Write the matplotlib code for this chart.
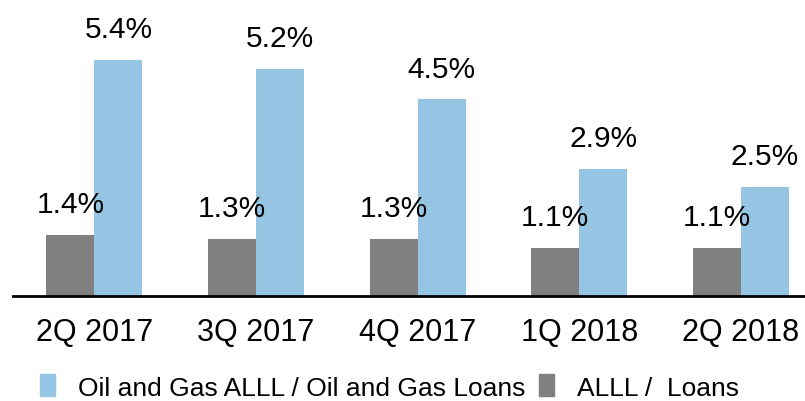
import matplotlib
matplotlib.use("Agg")
import matplotlib.pyplot as plt
from matplotlib.patches import Patch
import numpy as np

plt.rcParams['font.family'] = ['Liberation Sans', 'DejaVu Sans']

# data
quarters = ["2Q 2017", "3Q 2017", "4Q 2017", "1Q 2018", "2Q 2018"]
oil_gas = [5.4, 5.2, 4.5, 2.9, 2.5]   # Oil and Gas ALLL / Oil and Gas Loans
alll = [1.4, 1.3, 1.3, 1.1, 1.1]      # ALLL / Loans

blue = "#95c5e2"
gray = "#808080"

fig = plt.figure(figsize=(8.05, 4.02), dpi=100)
ax = fig.add_axes([13 / 805, 105 / 402, 792 / 805, 297 / 402])

x = np.arange(len(quarters))
w = 0.297
b1 = ax.bar(x - w / 2, alll, w, color=gray)
b2 = ax.bar(x + w / 2, oil_gas, w, color=blue)

for bars, vals in ((b1, alll), (b2, oil_gas)):
    for r, v in zip(bars, vals):
        ax.annotate(f"{v:.1f}%", (r.get_x() + r.get_width() / 2, v),
                    xytext=(0, 16.5), textcoords="offset points",
                    ha="center", va="baseline", fontsize=21.5)

ax.set_xlim(-0.504, 4.397)
ax.set_ylim(0, 6.8)
ax.set_xticks(x)
ax.set_xticklabels(quarters, fontsize=22)
ax.tick_params(axis="x", length=0, pad=15)
ax.set_yticks([])
for s in ("top", "right", "left"):
    ax.spines[s].set_visible(False)
ax.spines["bottom"].set_linewidth(2)
ax.spines["bottom"].set_color("black")

handles = [Patch(color=blue, label="Oil and Gas ALLL / Oil and Gas Loans"),
           Patch(color=gray, label="ALLL /  Loans")]
fig.legend(handles=handles, loc="center left", bbox_to_anchor=(40 / 805, 1 - 388 / 402),
           ncol=2, frameon=False, fontsize=19, handlelength=0.57, handleheight=0.9,
           handletextpad=0.87, columnspacing=0.5, borderpad=0, borderaxespad=0)

fig.savefig("out.png", dpi=100)
